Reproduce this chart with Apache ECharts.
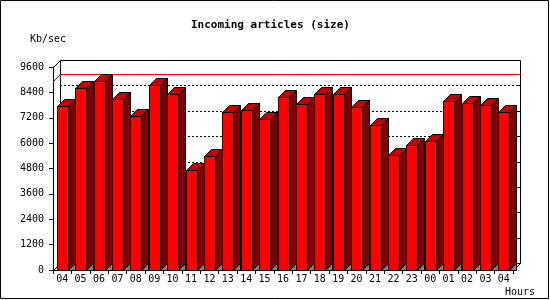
<!DOCTYPE html>
<html>
<head>
<meta charset="utf-8">
<script src="https://cdn.jsdelivr.net/npm/echarts@6/dist/echarts.min.js"></script>
<style>html,body{margin:0;padding:0;background:#fff}#c{width:550px;height:300px}</style>
</head>
<body>
<div id="c"></div>
<script>
const hours = ['04','05','06','07','08','09','10','11','12','13','14','15','16','17','18','19','20','21','22','23','00','01','02','03','04'];
const sizeKb = [7740, 8590, 8940, 8070, 7270, 8750, 8320, 4710, 5380, 7460, 7550, 7130, 8170, 7830, 8310, 8310, 7690, 6840, 5420, 5900, 6100, 7980, 7880, 7790, 7460];
const yMin = 0, yMax = 9600, yStep = 1200;
const peakLine = 8940;
const titleText = 'Incoming articles (size)';
const yName = 'Kb/sec';
const xName = 'Hours';

const D = 7;
const FONT = 'DejaVu Sans Mono';
const chart = echarts.init(document.getElementById('c'), null, {renderer: 'canvas'});

function frameRender(params, api) {
  const cs = params.coordSys;
  const x0 = cs.x, y0 = cs.y, w = cs.width, h = cs.height;
  const ch = [];
  const ln = (a, b, c, d, style) => ch.push({type: 'line', shape: {x1: a, y1: b, x2: c, y2: d}, style: Object.assign({stroke: '#000', lineWidth: 1}, style || {})});
  for (let v = yMin + yStep; v < yMax; v += yStep) {
    const y = Math.round(api.coord([0, v])[1] - D) + 0.5;
    ln(x0 + D, y, x0 + w + D, y, {lineDash: [2, 2]});
    ln(x0 + w + D - 4, y, x0 + w + D, y);
  }
  const L = Math.round(x0 + D) + 0.5, R = Math.round(x0 + w + D) + 0.5;
  const T = Math.round(y0 - D) + 0.5, B = Math.round(y0 + h - D) + 0.5;
  ln(L, T, R, T); ln(R, T, R, B); ln(L, T, L, B); ln(L, B, R, B);
  const fx = Math.round(x0) + 0.5, fy = Math.round(y0) + 0.5, fb = Math.round(y0 + h) + 0.5, fr = Math.round(x0 + w) + 0.5;
  ln(fx, fy, L, T); ln(fx, fb, L, B); ln(fr, fb, R, B);
  const py = Math.round(api.coord([0, peakLine])[1] - D) + 0.5;
  ln(L, py, R, py, {stroke: '#ff0000'});
  ln(L, py, fx, py + D, {stroke: '#ff0000'});
  return {type: 'group', children: ch};
}

function barRender(params, api) {
  const idx = api.value(0), v = api.value(1);
  const top = api.coord([idx, v]);
  const bot = api.coord([idx, 0]);
  const bw = Math.round(api.size([1, 0])[0] * 0.6);
  const x0 = Math.round(top[0] - bw / 2) + 0.5;
  const x1 = x0 + bw;
  const yt = Math.round(top[1]) + 0.5;
  const yb = Math.round(bot[1]) + 0.5;
  const s = {stroke: '#000', lineWidth: 1};
  return {type: 'group', children: [
    {type: 'polygon', shape: {points: [[x1, yb], [x1 + D, yb - D], [x1 + D, yb]]}, style: Object.assign({fill: '#808080'}, s)},
    {type: 'polygon', shape: {points: [[x1, yt], [x1 + D, yt - D], [x1 + D, yb - D], [x1, yb]]}, style: Object.assign({fill: '#800000'}, s)},
    {type: 'polygon', shape: {points: [[x0, yt], [x0 + D, yt - D], [x1 + D, yt - D], [x1, yt]]}, style: Object.assign({fill: '#c00000'}, s)},
    {type: 'rect', shape: {x: x0, y: yt, width: bw, height: yb - yt}, style: Object.assign({fill: '#ff0000'}, s)}
  ]};
}

const option = {
  animation: false,
  backgroundColor: '#fff',
  title: {text: titleText, left: 191, top: 20, padding: 0,
    textStyle: {fontFamily: FONT, fontSize: 11, fontWeight: 'bold', color: '#000'}},
  graphic: [
    {type: 'rect', shape: {x: 0.5, y: 0.5, width: 548, height: 298}, style: {fill: null, stroke: '#000', lineWidth: 1}, z: 100},
    {type: 'text', x: 30, y: 39, style: {text: yName, fontFamily: FONT, fontSize: 10, fill: '#000', verticalAlign: 'middle'}},
    {type: 'text', x: 505, y: 292, style: {text: xName, fontFamily: FONT, fontSize: 10, fill: '#000', verticalAlign: 'middle'}}
  ],
  grid: {left: 53, right: 37, top: 67, bottom: 30, containLabel: false, outerBoundsMode: 'none'},
  xAxis: {
    type: 'category', data: hours, boundaryGap: true,
    axisLine: {lineStyle: {color: '#000', width: 1}},
    axisTick: {show: true, length: 4, interval: 0, lineStyle: {color: '#000'}},
    axisLabel: {interval: 0, margin: 4, fontFamily: FONT, fontSize: 10, color: '#000', hideOverlap: false},
    splitLine: {show: false}
  },
  yAxis: {
    type: 'value', min: yMin, max: yMax, interval: yStep,
    axisLine: {show: true, lineStyle: {color: '#000', width: 1}},
    axisTick: {show: true, length: 4, lineStyle: {color: '#000'}},
    axisLabel: {margin: 9, fontFamily: FONT, fontSize: 10, color: '#000', formatter: v => String(v)},
    splitLine: {show: false}
  },
  series: [
    {type: 'custom', name: 'frame', z: 1, silent: true, renderItem: frameRender, data: [[0, 0]], encode: {x: 0, y: 1}},
    {type: 'custom', name: 'size', z: 2, renderItem: barRender,
      data: sizeKb.map((v, i) => [i, v]), encode: {x: 0, y: 1}}
  ]
};
chart.setOption(option);
</script>
</body>
</html>
